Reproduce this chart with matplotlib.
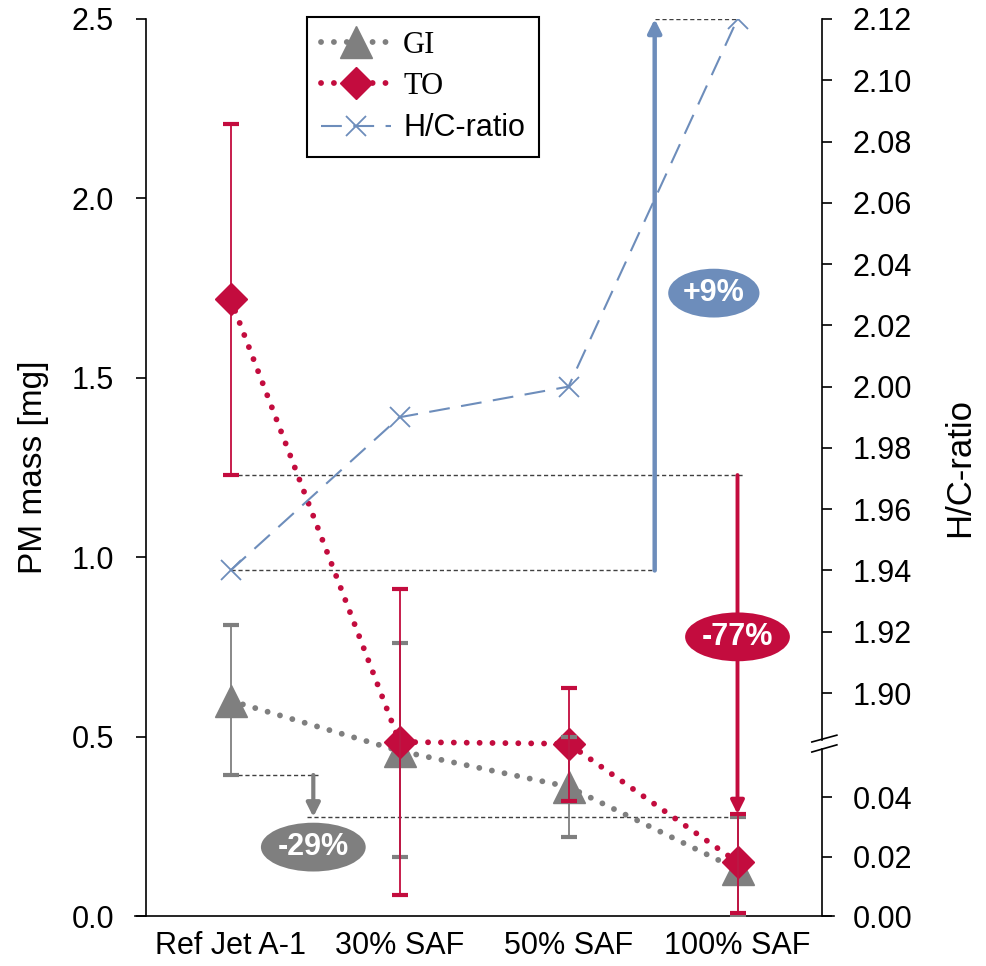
import matplotlib
matplotlib.use("Agg")
import matplotlib.pyplot as plt
from matplotlib.patches import Ellipse
from matplotlib.lines import Line2D

plt.rcParams['font.family'] = ['Liberation Sans', 'DejaVu Sans']

# data
fuels = ["Ref Jet A-1", "30% SAF", "50% SAF", "100% SAF"]
gi_mass = [0.60, 0.46, 0.36, 0.13]
gi_low = [0.393, 0.164, 0.22, 0.0]
gi_high = [0.811, 0.761, 0.50, 0.276]
to_mass = [1.72, 0.485, 0.48, 0.15]
to_low = [1.229, 0.058, 0.32, 0.008]
to_high = [2.207, 0.91, 0.635, 0.284]
hc_ratio = [1.94, 1.99, 2.00, 2.12]
hc_ticks_low = [0.00, 0.02, 0.04]
hc_ticks_high = [1.90, 1.92, 1.94, 1.96, 1.98, 2.00, 2.02, 2.04, 2.06, 2.08, 2.10, 2.12]

GREY = "#7F7F7F"
RED = "#C30C3E"
BLUE = "#6D8DBB"


def hc_to_left(v):
    # broken right axis -> position on the PM mass axis
    if v < 1.0:
        return v * 8.29
    return 0.6215 + (v - 1.90) * 8.539


x = list(range(len(fuels)))

fig = plt.figure(figsize=(9.86, 9.66), dpi=100)
ax = fig.add_axes([146/986, 1-916/966, 676/986, 897/966])
ax.set_xlim(-0.5, 3.5)
ax.set_ylim(0, 2.5)

# error bars
gi_err = [[m - l for m, l in zip(gi_mass, gi_low)], [h - m for m, h in zip(gi_mass, gi_high)]]
to_err = [[m - l for m, l in zip(to_mass, to_low)], [h - m for m, h in zip(to_mass, to_high)]]

dots = (0, (0.01, 2.2))
ax.plot(x, gi_mass, color=GREY, lw=4.2, linestyle=dots, dash_capstyle='round',
        marker='^', markersize=23, zorder=3, label="GI")
ax.plot(x, to_mass, color=RED, lw=4.2, linestyle=dots, dash_capstyle='round',
        marker='D', markersize=16, zorder=4, label="TO")
hc_y = [hc_to_left(v) for v in hc_ratio]
ax.plot(x, hc_y, color=BLUE, lw=1.5, linestyle=(0, (10, 5.5)), marker='x', markersize=14,
        mew=1.3, zorder=5, label="H/C-ratio")

ax.errorbar(x, gi_mass, yerr=gi_err, fmt='none', ecolor=GREY, elinewidth=1.3,
            capsize=5.5, capthick=3, zorder=6)
ax.errorbar(x, to_mass, yerr=to_err, fmt='none', ecolor=RED, elinewidth=1.3,
            capsize=5.5, capthick=3, zorder=6)

# reference lines
dk = dict(color="#404040", lw=1.0, linestyle=(0, (3, 2)), zorder=2)
ax.plot([0, 3.04], [to_low[0], to_low[0]], **dk)
ax.plot([0, 2.51], [hc_y[0], hc_y[0]], **dk)
ax.plot([2.51, 3.0], [hc_y[3], hc_y[3]], **dk)
ax.plot([0, 0.52], [gi_low[0], gi_low[0]], **dk)
ax.plot([0.45, 3.04], [gi_high[3], gi_high[3]], **dk)

# arrows
ax.annotate("", xy=(2.51, hc_y[3]), xytext=(2.51, hc_y[0]),
            arrowprops=dict(arrowstyle="-|>,head_length=0.8,head_width=0.4", color=BLUE, lw=3.2,
                            shrinkA=0, shrinkB=0), zorder=3)
ax.annotate("", xy=(3.0, to_high[3]), xytext=(3.0, to_low[0]),
            arrowprops=dict(arrowstyle="-|>,head_length=0.8,head_width=0.4", color=RED, lw=2.8,
                            shrinkA=0, shrinkB=0), zorder=3)
ax.annotate("", xy=(0.49, gi_high[3]), xytext=(0.49, gi_low[0]),
            arrowprops=dict(arrowstyle="-|>,head_length=0.8,head_width=0.4", color=GREY, lw=3.0,
                            shrinkA=0, shrinkB=0), zorder=3)

# percentage labels
for cx, cy, w, txt, col in [(2.86, 1.736, 0.54, "+9%", BLUE),
                            (3.0, 0.778, 0.62, "-77%", RED),
                            (0.49, 0.192, 0.62, "-29%", GREY)]:
    ax.add_patch(Ellipse((cx, cy), w, 0.136, facecolor=col, edgecolor='none', zorder=7))
    ax.text(cx, cy, txt, color='white', fontsize=22, fontweight='bold',
            ha='center', va='center', zorder=8)

# axes styling
ax.set_xticks(x)
ax.set_xticklabels(fuels)
ax.set_yticks([0, 0.5, 1.0, 1.5, 2.0, 2.5])
ax.set_yticklabels(["%.1f" % v for v in [0, 0.5, 1.0, 1.5, 2.0, 2.5]])
ax.tick_params(axis='x', length=0, labelsize=22, pad=11)
ax.tick_params(axis='y', direction='out', length=7, width=1.2, labelsize=22, pad=16)
ax.set_ylabel("PM mass [mg]", fontsize=24, labelpad=16)
for s in ['top', 'right', 'bottom']:
    ax.spines[s].set_visible(False)
ax.spines['left'].set_linewidth(1.2)
ax.add_line(Line2D([-0.016, 1.018], [0, 0], transform=ax.transAxes, color='black',
                   lw=1.2, clip_on=False))

# right axis with break
ax2 = ax.twinx()
ax2.set_ylim(0, 2.5)
for s in ax2.spines.values():
    s.set_visible(False)
ticks_r = [hc_to_left(v) for v in hc_ticks_low] + [hc_to_left(v) for v in hc_ticks_high]
labels_r = ["%.2f" % v for v in hc_ticks_low] + ["%.2f" % v for v in hc_ticks_high]
ax2.set_yticks(ticks_r)
ax2.set_yticklabels(labels_r)
ax2.tick_params(axis='y', direction='out', length=7, width=1.2, labelsize=22, pad=15)
ax2.set_ylabel("H/C-ratio", fontsize=25, labelpad=22)
tr = ax2.get_yaxis_transform()
ax2.add_line(Line2D([1, 1], [0.49, 2.5], transform=tr, color='black', lw=1.2, clip_on=False))
ax2.add_line(Line2D([1, 1], [0, 0.465], transform=tr, color='black', lw=1.2, clip_on=False))
ax2.add_line(Line2D([0.985, 1.022], [0.485, 0.504], transform=tr, color='black', lw=1.2, clip_on=False))
ax2.add_line(Line2D([0.985, 1.022], [0.457, 0.477], transform=tr, color='black', lw=1.2, clip_on=False))

# legend
leg = ax.legend(loc='upper left', bbox_to_anchor=((307-146)/676, (916-17)/897), borderaxespad=0,
                fontsize=22, frameon=True, fancybox=False, edgecolor='black', framealpha=1,
                handlelength=2.3, handletextpad=0.4, labelspacing=0.4, borderpad=0.45)
leg.get_frame().set_linewidth(1.5)
for t in leg.get_texts()[:2]:
    t.set_fontfamily('Liberation Serif')

fig.savefig("out.png", dpi=100)
